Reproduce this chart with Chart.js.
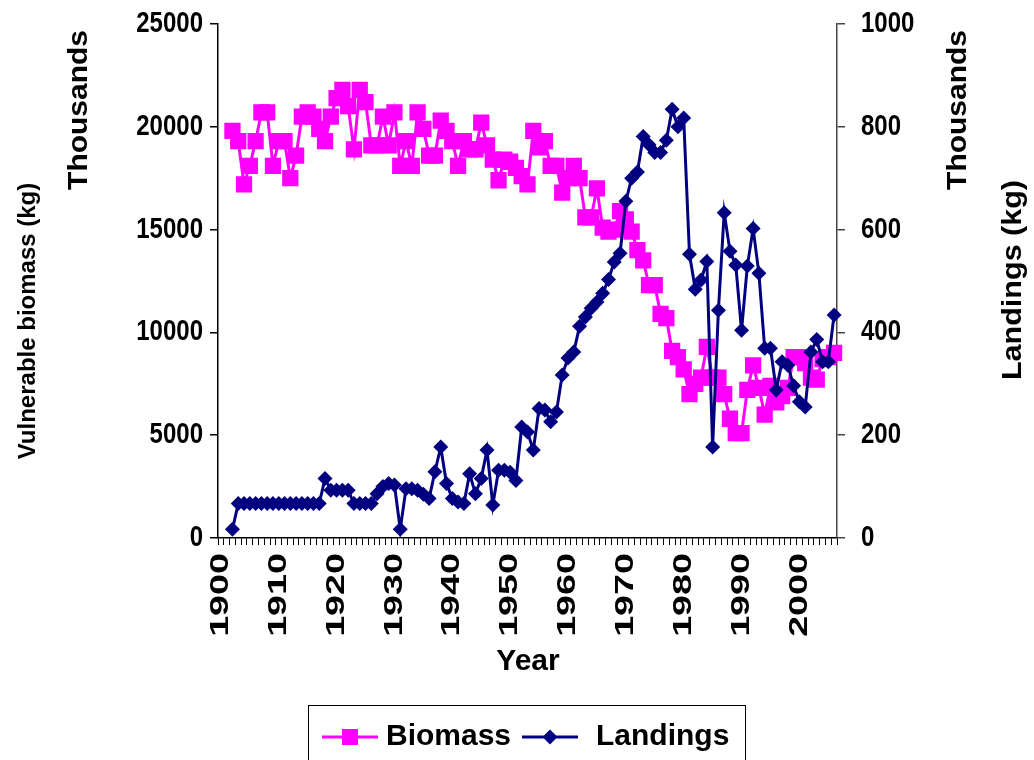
<!DOCTYPE html>
<html><head><meta charset="utf-8">
<script src="https://cdn.jsdelivr.net/npm/chart.js@4.4.1/dist/chart.umd.min.js"></script>
<style>html,body{margin:0;padding:0;background:#fff;overflow:hidden}#wrap{position:relative;width:1034px;height:760px}</style>
</head><body><div id="wrap"><canvas id="c" width="1034" height="760"></canvas></div>
<script>
const years = [1900,1901,1902,1903,1904,1905,1906,1907,1908,1909,1910,1911,1912,1913,1914,1915,1916,1917,1918,1919,
1920,1921,1922,1923,1924,1925,1926,1927,1928,1929,1930,1931,1932,1933,1934,1935,1936,1937,1938,1939,
1940,1941,1942,1943,1944,1945,1946,1947,1948,1949,1950,1951,1952,1953,1954,1955,1956,1957,1958,1959,
1960,1961,1962,1963,1964,1965,1966,1967,1968,1969,1970,1971,1972,1973,1974,1975,1976,1977,1978,1979,
1980,1981,1982,1983,1984,1985,1986,1987,1988,1989,1990,1991,1992,1993,1994,1995,1996,1997,1998,1999,
2000,2001,2002,2003,2004,2005,2006];

// Vulnerable biomass (kg, thousands) - left axis
const biomass = [null,null,19800,19300,17200,18100,19300,20700,20700,18100,
19300,19300,17500,18600,20500,20700,20500,19900,19300,20500,
21400,21800,21000,18900,21800,21200,19100,19100,20500,19100,
20700,18100,19300,18100,20700,19900,18600,18600,20300,19800,
19300,18100,19300,18900,18900,20200,19100,18400,17400,18400,
18300,18000,17600,17200,19800,19000,19300,18100,18100,16800,
17500,18100,17500,15600,15600,17000,15100,14900,15000,15900,
15500,14900,14000,13500,12300,12300,10900,10700,9100,8800,
8200,7000,7500,7800,9300,7800,7800,7000,5800,5100,
5100,7200,8400,7300,6000,7400,6600,6900,7300,8800,
8800,8500,7800,7700,8700,8800,9000];

// Landings (kg, thousands) - right axis
const landings = [null,null,17,67,67,67,67,67,67,67,
67,67,67,67,67,67,67,67,116,93,
93,93,93,67,67,67,67,86,100,106,
103,17,96,96,93,85,77,129,177,106,
77,70,67,125,86,116,171,64,132,132,
128,112,216,206,171,252,249,226,245,317,
350,362,412,430,447,459,476,503,537,554,
655,700,712,781,765,750,750,774,834,800,
817,552,484,502,538,177,443,633,558,531,
404,529,602,515,369,369,288,343,336,296,
265,255,362,386,343,343,434];

const xTickLabels = ['1900','1910','1920','1930','1940','1950','1960','1970','1980','1990','2000'];
const leftTicks = [0,5000,10000,15000,20000,25000];
const rightTicks = [0,200,400,600,800,1000];

const FONT = '"Liberation Sans", Arial, Helvetica, sans-serif';
const PINK = '#FF00FF', NAVY = '#000080';

function txt(ctx, s, x, y, o) {
  ctx.save();
  ctx.translate(x, y);
  ctx.scale(1, o.sy || 1);
  if (o.rot) ctx.rotate(o.rot);
  ctx.font = 'bold ' + o.size + 'px ' + FONT;
  ctx.textAlign = o.align || 'center';
  ctx.textBaseline = o.baseline || 'middle';
  ctx.fillStyle = '#000';
  ctx.fillText(s, 0, 0);
  ctx.restore();
}

const textPlugin = {
  id: 'texts',
  afterDraw(chart) {
    const ctx = chart.ctx;
    const sx = chart.scales.x, sy = chart.scales.y, sy1 = chart.scales.y1;
    leftTicks.forEach(v => txt(ctx, String(v), 203, sy.getPixelForValue(v), {size: 24, align: 'right', sy: 1.22}));
    rightTicks.forEach(v => txt(ctx, String(v), 861, sy1.getPixelForValue(v), {size: 24, align: 'left', sy: 1.22}));
    xTickLabels.forEach(l => {
      const i = years.indexOf(Number(l));
      txt(ctx, l, sx.getPixelForValue(i), 553, {size: 26, align: 'right', rot: -Math.PI / 2, sy: 1.45});
    });
    txt(ctx, 'Year', 528, 662, {size: 30});
    txt(ctx, 'Vulnerable biomass (kg)', 28, 321, {size: 24, rot: -Math.PI / 2});
    txt(ctx, 'Thousands', 79, 110, {size: 28, rot: -Math.PI / 2, sy: 1.07});
    txt(ctx, 'Thousands', 958, 110, {size: 28, rot: -Math.PI / 2, sy: 1.07});
    txt(ctx, 'Landings (kg)', 1013, 280, {size: 28, rot: -Math.PI / 2, sy: 1.09});
    // legend
    ctx.save();
    ctx.strokeStyle = '#000'; ctx.lineWidth = 1;
    ctx.strokeRect(308.5, 705.5, 437, 60);
    ctx.lineWidth = 3;
    ctx.strokeStyle = PINK; ctx.beginPath(); ctx.moveTo(322, 737); ctx.lineTo(378, 737); ctx.stroke();
    ctx.fillStyle = PINK; ctx.fillRect(342, 729, 16, 16);
    ctx.strokeStyle = NAVY; ctx.beginPath(); ctx.moveTo(522, 737); ctx.lineTo(578, 737); ctx.stroke();
    ctx.fillStyle = NAVY; ctx.beginPath(); ctx.moveTo(550, 729.5); ctx.lineTo(557.5, 737); ctx.lineTo(550, 744.5); ctx.lineTo(542.5, 737); ctx.closePath(); ctx.fill();
    ctx.restore();
    txt(ctx, 'Biomass', 386, 737, {size: 30, align: 'left'});
    txt(ctx, 'Landings', 596, 737, {size: 30, align: 'left'});
  }
};

new Chart(document.getElementById('c'), {
  type: 'line',
  data: {
    labels: years,
    datasets: [
      {label: 'Biomass', data: biomass, yAxisID: 'y', order: 2,
       borderColor: PINK, backgroundColor: PINK, borderWidth: 3,
       pointStyle: 'rect', pointRadius: 11.5, pointBorderWidth: 0,
       pointBackgroundColor: PINK, tension: 0},
      {label: 'Landings', data: landings, yAxisID: 'y1', order: 1,
       borderColor: NAVY, backgroundColor: NAVY, borderWidth: 3,
       pointStyle: 'rectRot', pointRadius: 7.5, pointBorderWidth: 0,
       pointBackgroundColor: NAVY, tension: 0}
    ]
  },
  options: {
    responsive: false, animation: false, devicePixelRatio: 1,
    layout: {padding: {top: 24, left: 0, right: 0, bottom: 0}},
    plugins: {legend: {display: false}, tooltip: {enabled: false}},
    scales: {
      x: {
        type: 'category', offset: true,
        grid: {offset: true, drawOnChartArea: false, drawTicks: true, tickLength: 7, color: '#000', lineWidth: 1},
        border: {display: true, color: '#000', width: 1.5},
        ticks: {display: false},
        afterFit(s) { s.height = 222; }
      },
      y: {
        position: 'left', min: 0, max: 25000,
        grid: {drawOnChartArea: false, drawTicks: true, tickLength: 8, color: '#000', lineWidth: 1.5},
        border: {display: true, color: '#000', width: 1.5},
        ticks: {display: false, stepSize: 5000},
        afterFit(s) { s.width = 218; }
      },
      y1: {
        position: 'right', min: 0, max: 1000,
        grid: {drawOnChartArea: false, drawTicks: true, tickLength: 8, color: '#444', lineWidth: 1.5},
        border: {display: true, color: '#444', width: 1.5},
        ticks: {display: false, stepSize: 200},
        afterFit(s) { s.width = 197; }
      }
    }
  },
  plugins: [textPlugin]
});
</script>
</body></html>
